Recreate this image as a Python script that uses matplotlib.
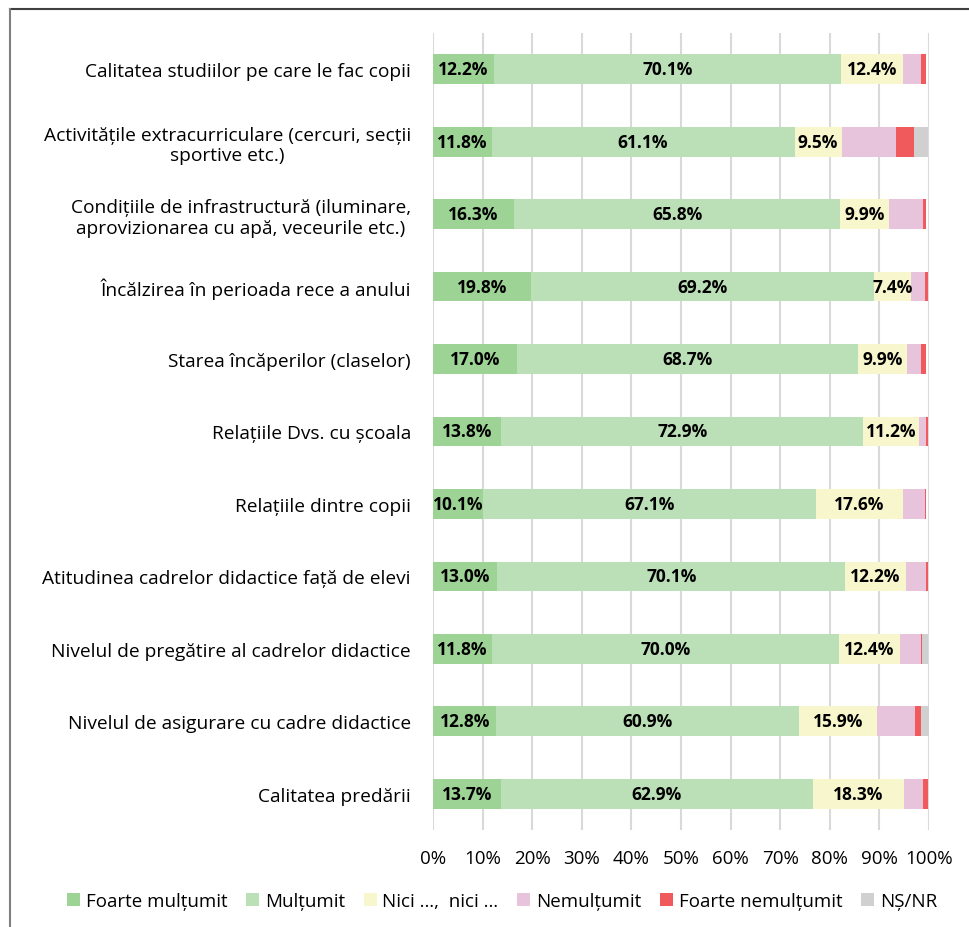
import matplotlib
matplotlib.use("Agg")
import matplotlib.pyplot as plt
from matplotlib.lines import Line2D
import numpy as np

plt.rcParams['font.family'] = ['Liberation Sans Narrow', 'Open Sans', 'DejaVu Sans']

categories = [
    "Calitatea studiilor pe care le fac copii",
    "Activitățile extracurriculare (cercuri, secții\nsportive etc.)",
    "Condițiile de infrastructură (iluminare,\naprovizionarea cu apă, veceurile etc.)",
    "Încălzirea în perioada rece a anului",
    "Starea încăperilor (claselor)",
    "Relațiile Dvs. cu școala",
    "Relațiile dintre copii",
    "Atitudinea cadrelor didactice față de elevi",
    "Nivelul de pregătire al cadrelor didactice",
    "Nivelul de asigurare cu cadre didactice",
    "Calitatea predării",
]

series_names = ["Foarte mulțumit", "Mulțumit", "Nici …,  nici …",
                "Nemulțumit", "Foarte nemulțumit", "NȘ/NR"]

foarte_multumit = [12.2, 11.8, 16.3, 19.8, 17.0, 13.8, 10.1, 13.0, 11.8, 12.8, 13.7]
multumit        = [70.1, 61.1, 65.8, 69.2, 68.7, 72.9, 67.1, 70.1, 70.0, 60.9, 62.9]
nici_nici       = [12.4, 9.5, 9.9, 7.4, 9.9, 11.2, 17.6, 12.2, 12.4, 15.9, 18.3]
nemultumit      = [3.7, 10.9, 6.8, 2.7, 2.7, 1.4, 4.3, 4.0, 4.1, 7.5, 3.8]
foarte_nemult   = [1.0, 3.6, 0.6, 0.7, 1.0, 0.4, 0.3, 0.4, 0.3, 1.3, 1.0]
ns_nr           = [0.0, 2.9, 0.0, 0.0, 0.0, 0.0, 0.0, 0.0, 1.1, 1.5, 0.0]

colors = ["#9dd395", "#bbdfb7", "#f8f6cc", "#e8c3dc", "#f05a5c", "#d0d0d0"]

all_series = [foarte_multumit, multumit, nici_nici, nemultumit, foarte_nemult, ns_nr]

fig = plt.figure(figsize=(9.69, 9.28), dpi=100)
ax = fig.add_axes([433/969, 1-831/928, (929-433)/969, (831-34)/928])

y = np.arange(len(categories))
left = np.zeros(len(categories))
for k, (vals, col, name) in enumerate(zip(all_series, colors, series_names)):
    vals = np.array(vals)
    ax.barh(y, vals, left=left, height=0.41, color=col, label=name, zorder=3)
    if k < 3:
        for i, v in enumerate(vals):
            ax.text(left[i] + v/2, y[i], f"{v:.1f}%", ha='center', va='center',
                    fontsize=12.5, fontweight='bold', color='black', zorder=4)
    left += vals

ax.set_xlim(0, 100)
ax.set_ylim(len(categories) - 0.5, -0.5)
ax.set_xticks(np.arange(0, 101, 10))
ax.set_xticklabels([f"{t}%" for t in range(0, 101, 10)], fontsize=13.5)
ax.set_yticks(y)
ax.set_yticklabels(categories, fontsize=13.8, multialignment='center')
ax.tick_params(axis='both', length=0)
ax.tick_params(axis='y', pad=16)
ax.tick_params(axis='x', pad=14)
ax.grid(axis='x', color='#d9d9d9', linewidth=1.5, zorder=0)
for s in ax.spines.values():
    s.set_visible(False)

ax.legend(loc='center', bbox_to_anchor=(502/969, 1-902/928), bbox_transform=fig.transFigure,
          ncol=6, frameon=False, fontsize=13.5, handlelength=0.7, handleheight=0.7,
          handletextpad=0.3, columnspacing=1.0)

# outer chart frame (top and left edges visible)
fig.add_artist(Line2D([10/969, 1], [1-10/928, 1-10/928], color='#404040', linewidth=1.5,
                      transform=fig.transFigure))
fig.add_artist(Line2D([10/969, 10/969], [0, 1-10/928], color='#7f7f7f', linewidth=1.5,
                      transform=fig.transFigure))

fig.savefig("out.png", dpi=100)
